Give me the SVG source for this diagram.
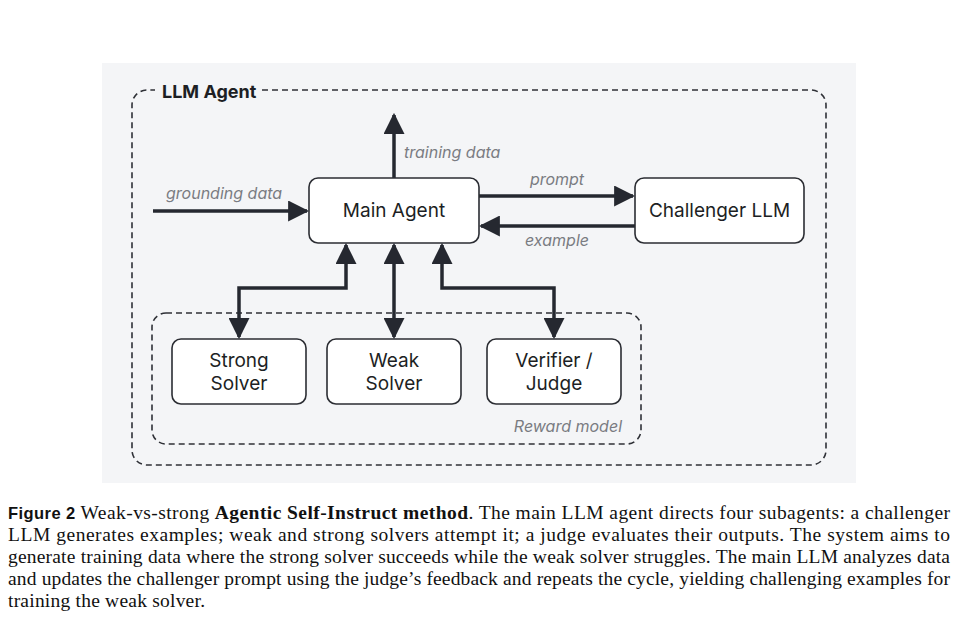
<svg xmlns="http://www.w3.org/2000/svg" width="958" height="619" viewBox="0 0 958 619">
<defs>
<style>
.box{fill:#ffffff;stroke:#2b2d33;stroke-width:1.6}
.lbl{font-family:Inter,"Liberation Sans",sans-serif;font-size:19px;fill:#1d1f24;text-anchor:middle}
.it{font-family:Inter,"Liberation Sans",sans-serif;font-size:16px;font-style:italic;fill:#7a7c82}
.dash{fill:none;stroke:#2f3137;stroke-width:1.6;stroke-dasharray:6 4}
.con{fill:none;stroke:#252830;stroke-width:3.5}
.cap{font-family:"Liberation Serif",serif;font-size:19.5px;fill:#111}
</style>
<marker id="ah" viewBox="0 0 10 10" refX="9" refY="5" markerWidth="6" markerHeight="6" markerUnits="strokeWidth" orient="auto-start-reverse">
<path d="M0,0 L10,5 L0,10 z" fill="#252830"/>
</marker>
</defs>
<rect x="0" y="0" width="958" height="619" fill="#ffffff"/>
<rect x="102" y="63" width="754" height="420" fill="#f4f5f7"/>

<g id="llm-agent-group">
<path class="dash" d="M262 90 H811 A15 15 0 0 1 826 105 V450 A15 15 0 0 1 811 465 H147 A15 15 0 0 1 132 450 V105 A15 15 0 0 1 147 90 H155"/>
<text x="162" y="98" font-family="Inter,'Liberation Sans',sans-serif" font-size="18" font-weight="bold" fill="#1d1f24">LLM Agent</text>
</g>

<g id="reward-model-group">
<rect class="dash" x="152" y="313" width="489" height="131" rx="14"/>
<text class="it" x="622" y="432" text-anchor="end">Reward model</text>
</g>

<g id="connectors">
<line class="con" x1="394" y1="178" x2="394" y2="115" marker-end="url(#ah)"/>
<text class="it" x="404" y="158">training data</text>
<line class="con" x1="153" y1="211" x2="307" y2="211" marker-end="url(#ah)"/>
<text class="it" x="166" y="199">grounding data</text>
<line class="con" x1="479" y1="196" x2="633" y2="196" marker-end="url(#ah)"/>
<text class="it" x="557" y="185" text-anchor="middle">prompt</text>
<line class="con" x1="635" y1="226" x2="481" y2="226" marker-end="url(#ah)"/>
<text class="it" x="557" y="246" text-anchor="middle">example</text>
<path class="con" d="M239 337 V288 H346 V245" marker-start="url(#ah)" marker-end="url(#ah)"/>
<path class="con" d="M394 337 V245" marker-start="url(#ah)" marker-end="url(#ah)"/>
<path class="con" d="M554 337 V288 H442 V245" marker-start="url(#ah)" marker-end="url(#ah)"/>
</g>

<g id="main-agent">
<rect class="box" x="309" y="178" width="170" height="65" rx="9"/>
<text class="lbl" x="394" y="217">Main Agent</text>
</g>
<g id="challenger-llm">
<rect class="box" x="635" y="178" width="169" height="65" rx="9"/>
<text class="lbl" x="719.5" y="217">Challenger LLM</text>
</g>
<g id="strong-solver">
<rect class="box" x="172" y="339" width="134" height="65" rx="9"/>
<text class="lbl" x="239" y="367">Strong</text>
<text class="lbl" x="239" y="390">Solver</text>
</g>
<g id="weak-solver">
<rect class="box" x="327" y="339" width="134" height="65" rx="9"/>
<text class="lbl" x="394" y="367">Weak</text>
<text class="lbl" x="394" y="390">Solver</text>
</g>
<g id="verifier-judge">
<rect class="box" x="487" y="339" width="134" height="65" rx="9"/>
<text class="lbl" x="554" y="367">Verifier /</text>
<text class="lbl" x="554" y="390">Judge</text>
</g>

<g id="caption">
<text class="cap" x="8" y="519" textLength="942" lengthAdjust="spacing"><tspan font-family="'Liberation Sans',sans-serif" font-weight="bold" font-size="16.5">Figure 2</tspan>  Weak-vs-strong <tspan font-weight="bold">Agentic Self-Instruct method</tspan>. The main LLM agent directs four subagents: a challenger</text>
<text class="cap" x="8" y="541" textLength="942" lengthAdjust="spacing">LLM generates examples; weak and strong solvers attempt it; a judge evaluates their outputs. The system aims to</text>
<text class="cap" x="8" y="563" textLength="942" lengthAdjust="spacing">generate training data where the strong solver succeeds while the weak solver struggles. The main LLM analyzes data</text>
<text class="cap" x="8" y="585" textLength="942" lengthAdjust="spacing">and updates the challenger prompt using the judge’s feedback and repeats the cycle, yielding challenging examples for</text>
<text class="cap" x="8" y="607" textLength="197" lengthAdjust="spacing">training the weak solver.</text>
</g>
</svg>
